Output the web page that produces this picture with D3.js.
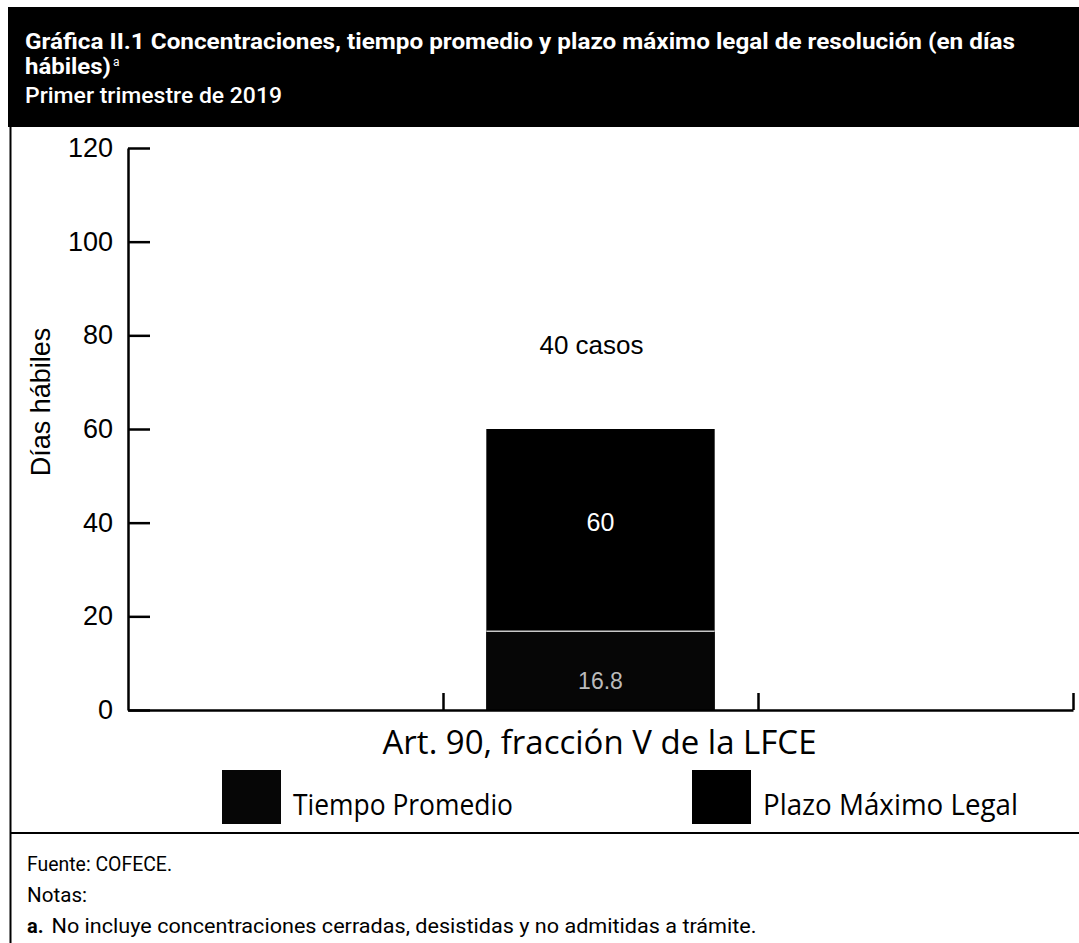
<!DOCTYPE html>
<html lang="es">
  <head>
    <meta charset="UTF-8" />
    <title>Gráfica II.1 Concentraciones</title>
    <script src="https://d3js.org/d3.v7.min.js"></script>
    <style>
      body {
        margin: 0;
        background: #fff;
      }
      .chart svg {
        display: block;
      }
    </style>
  </head>
  <body>
    <div class="chart"></div>
  </body>

  <script>
    // data
    var categories = ["Art. 90, fracción V de la LFCE"];
    var seriesNames = ["Tiempo Promedio", "Plazo Máximo Legal"];
    var tiempoPromedio = [16.8];
    var plazoMaximo = [60];
    var casos = [40];
    var yTicks = [0, 20, 40, 60, 80, 100, 120];
    var slotTicks = [1, 2, 3]; // category slots on the x axis, the data sits in slot 1
    var titleLines = [
      "Gráfica II.1 Concentraciones, tiempo promedio y plazo máximo legal de resolución (en días",
      "hábiles)",
      "Primer trimestre de 2019"
    ];
    var footLines = [
      "Fuente: COFECE.",
      "Notas:",
      "No incluye concentraciones cerradas, desistidas y no admitidas a trámite."
    ];

    var W = 1079, H = 943;
    var margin = { top: 148, right: 6, bottom: 233, left: 128 };
    var width = W - margin.left - margin.right;
    var height = H - margin.top - margin.bottom;

    var svgContainer = d3
      .select(".chart")
      .append("svg")
      .attr("width", W)
      .attr("height", H);

    // header band
    svgContainer.append("rect")
      .attr("x", 8).attr("y", 7)
      .attr("width", W - 8).attr("height", 120)
      .attr("fill", "#000");

    var titleFont = "Roboto, 'Liberation Sans', sans-serif";
    svgContainer.append("text")
      .attr("x", 25).attr("y", 49)
      .attr("fill", "#fff")
      .attr("font-family", titleFont)
      .attr("font-weight", "bold")
      .attr("font-size", 22)
      .attr("textLength", 990)
      .attr("lengthAdjust", "spacingAndGlyphs")
      .text(titleLines[0]);
    var t2 = svgContainer.append("text")
      .attr("x", 25).attr("y", 74)
      .attr("fill", "#fff")
      .attr("font-family", titleFont)
      .attr("font-weight", "bold")
      .attr("font-size", 22);
    t2.append("tspan")
      .attr("textLength", 86)
      .attr("lengthAdjust", "spacingAndGlyphs")
      .text(titleLines[1]);
    t2.append("tspan").attr("dx", 2).attr("dy", -8).attr("font-size", 12).attr("font-weight", "normal").text("a");
    svgContainer.append("text")
      .attr("x", 25).attr("y", 103)
      .attr("fill", "#fff")
      .attr("font-family", titleFont)
      .attr("font-weight", 500)
      .attr("font-size", 22)
      .attr("textLength", 257)
      .attr("lengthAdjust", "spacingAndGlyphs")
      .text(titleLines[2]);

    // frame: left border + separator above footer
    svgContainer.append("line")
      .attr("x1", 10.5).attr("x2", 10.5)
      .attr("y1", 127).attr("y2", H)
      .attr("stroke", "#000").attr("stroke-width", 2);
    svgContainer.append("line")
      .attr("x1", 10).attr("x2", W)
      .attr("y1", 833).attr("y2", 833)
      .attr("stroke", "#000").attr("stroke-width", 2);

    var svg = svgContainer
      .append("g")
      .attr("transform", "translate(" + margin.left + ", " + margin.top + ")");

    var yScale = d3.scaleLinear().domain([0, 120]).range([height, 0]);
    var xScale = d3.scaleLinear().domain([0, 3]).range([0, width]);

    var axisFont = "'Liberation Sans', Arial, sans-serif";

    // bars: Plazo Máximo Legal behind, Tiempo Promedio in front
    var slotW = xScale(1) - xScale(0);
    var barW = slotW * 0.725;
    var barX = function (i) {
      return xScale(i + 1.5) - barW / 2;
    };

    svg.selectAll(".plazo")
      .data(plazoMaximo)
      .enter()
      .append("rect")
      .attr("class", "plazo")
      .attr("x", function (d, i) { return barX(i); })
      .attr("y", function (d) { return yScale(d); })
      .attr("width", barW)
      .attr("height", function (d) { return yScale(0) - yScale(d); })
      .attr("fill", "#000");

    svg.selectAll(".tiempo")
      .data(tiempoPromedio)
      .enter()
      .append("rect")
      .attr("class", "tiempo")
      .attr("x", function (d, i) { return barX(i); })
      .attr("y", function (d) { return yScale(d); })
      .attr("width", barW)
      .attr("height", function (d) { return yScale(0) - yScale(d); })
      .attr("fill", "#060606");

    svg.selectAll(".tiempo-top")
      .data(tiempoPromedio)
      .enter()
      .append("line")
      .attr("x1", function (d, i) { return barX(i); })
      .attr("x2", function (d, i) { return barX(i) + barW; })
      .attr("y1", function (d) { return yScale(d); })
      .attr("y2", function (d) { return yScale(d); })
      .attr("stroke", "#c8c8c8")
      .attr("stroke-width", 1.5);

    // value labels
    svg.selectAll(".lab-plazo")
      .data(plazoMaximo)
      .enter()
      .append("text")
      .attr("x", function (d, i) { return xScale(i + 1.5); })
      .attr("y", function (d, i) { return (yScale(d) + yScale(tiempoPromedio[i])) / 2 + 1; })
      .attr("text-anchor", "middle")
      .attr("fill", "#fff")
      .attr("font-family", axisFont)
      .attr("font-size", 25)
      .text(function (d) { return d; });

    svg.selectAll(".lab-tiempo")
      .data(tiempoPromedio)
      .enter()
      .append("text")
      .attr("x", function (d, i) { return xScale(i + 1.5); })
      .attr("y", function (d) { return (yScale(d) + yScale(0)) / 2 + 18; })
      .attr("text-anchor", "middle")
      .attr("fill", "#bbb")
      .attr("font-family", axisFont)
      .attr("font-size", 23)
      .text(function (d) { return d; });

    svg.selectAll(".lab-casos")
      .data(casos)
      .enter()
      .append("text")
      .attr("x", function (d, i) { return xScale(i + 1.5) - 9; })
      .attr("y", yScale(80) + 19)
      .attr("text-anchor", "middle")
      .attr("fill", "#000")
      .attr("font-family", axisFont)
      .attr("font-size", 26)
      .text(function (d) { return d + " casos"; });

    // y axis
    var yAxis = d3.axisLeft(yScale)
      .tickValues(yTicks)
      .tickSizeInner(-22)
      .tickSizeOuter(0)
      .tickPadding(15);
    var gy = svg.append("g").call(yAxis);
    gy.selectAll("text")
      .attr("font-family", axisFont)
      .attr("font-size", 27)
      .attr("fill", "#000");
    gy.selectAll("line, path").attr("stroke", "#000").attr("stroke-width", 2.5);

    // x axis
    var xAxis = d3.axisBottom(xScale)
      .tickValues(slotTicks)
      .tickSizeInner(-17)
      .tickSizeOuter(0)
      .tickFormat("");
    var gx = svg.append("g").attr("transform", "translate(0, " + height + ")").call(xAxis);
    gx.selectAll("line, path").attr("stroke", "#000").attr("stroke-width", 2.5);

    // axis titles
    svgContainer.append("text")
      .attr("transform", "translate(50, 402) rotate(-90)")
      .attr("text-anchor", "middle")
      .attr("font-family", axisFont)
      .attr("font-size", 27)
      .attr("fill", "#000")
      .text("Días hábiles");

    var catFont = "'Open Sans', 'Noto Sans', sans-serif";
    svg.selectAll(".cat")
      .data(categories)
      .enter()
      .append("text")
      .attr("x", function (d, i) { return xScale(i + 1.5) - 1; })
      .attr("y", height + 44)
      .attr("text-anchor", "middle")
      .attr("font-family", catFont)
      .attr("font-size", 33)
      .attr("textLength", 434)
      .attr("lengthAdjust", "spacingAndGlyphs")
      .attr("fill", "#000")
      .text(function (d) { return d; });

    // legend
    var legendX = [222, 692];
    var legendW = [220, 255];
    var legend = svgContainer.selectAll(".legend")
      .data(seriesNames)
      .enter()
      .append("g")
      .attr("transform", function (d, i) { return "translate(" + legendX[i] + ", 770)"; });
    legend.append("rect")
      .attr("width", 59).attr("height", 54)
      .attr("fill", function (d, i) { return i === 0 ? "#060606" : "#000"; });
    legend.append("text")
      .attr("x", 71).attr("y", 45)
      .attr("font-family", catFont)
      .attr("font-size", 29)
      .attr("textLength", function (d, i) { return legendW[i]; })
      .attr("lengthAdjust", "spacingAndGlyphs")
      .attr("fill", "#000")
      .text(function (d) { return d; });

    // footer
    var footFont = "Roboto, 'Liberation Sans', sans-serif";
    var footW = [145, 60, 705];
    var footY = [871, 902, 933];
    footLines.forEach(function (line, i) {
      var t = svgContainer.append("text")
        .attr("x", 27).attr("y", footY[i])
        .attr("font-family", footFont)
        .attr("font-size", 20)
        .attr("fill", "#000");
      if (i === 2) {
        t.append("tspan").attr("font-weight", "bold").text("a.");
        t.append("tspan").attr("dx", 8)
          .attr("textLength", footW[i])
          .attr("lengthAdjust", "spacingAndGlyphs")
          .text(line);
      } else {
        t.attr("textLength", footW[i])
          .attr("lengthAdjust", "spacingAndGlyphs")
          .text(line);
      }
    });
  </script>
</html>
